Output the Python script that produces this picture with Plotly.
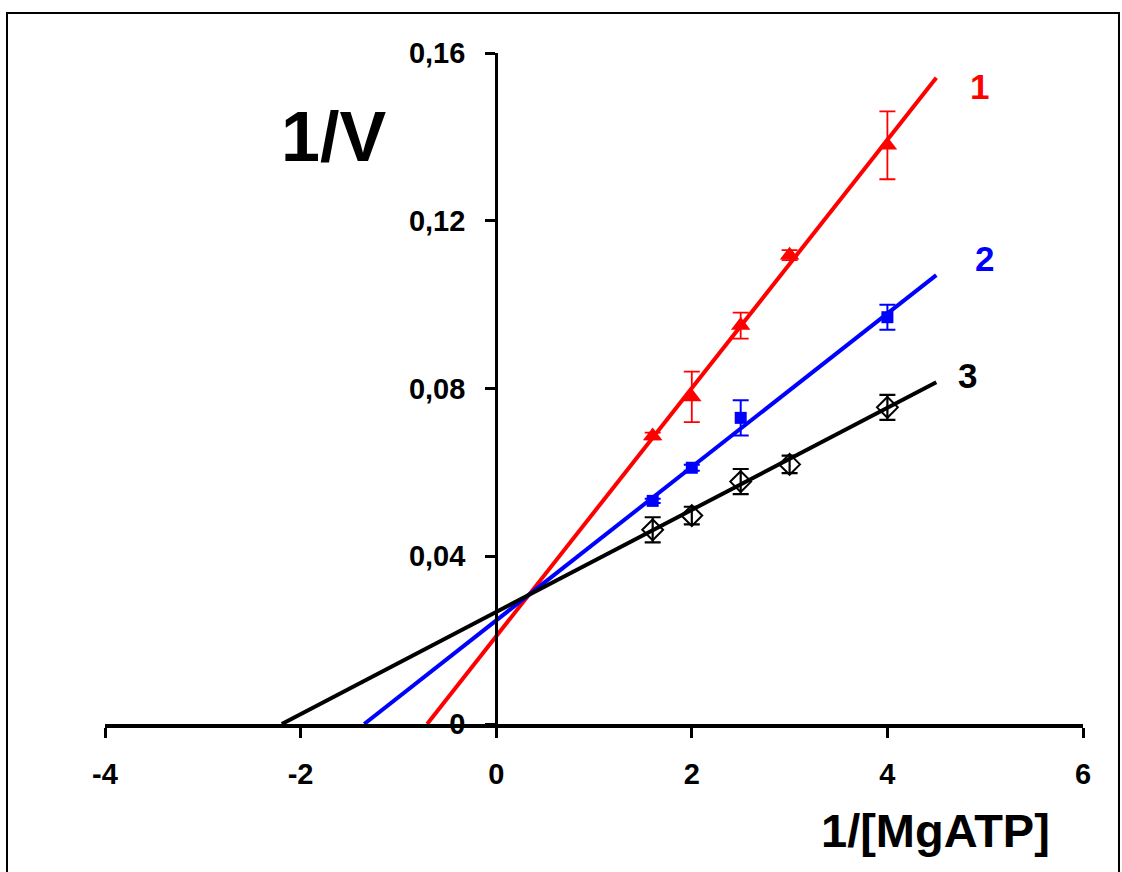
import plotly.graph_objects as go

# ---- data ----
red_x = [1.6, 2.0, 2.5, 3.0, 4.0]
red_y = [0.0687, 0.0780, 0.0950, 0.1118, 0.1380]
red_err = [0.0008, 0.0060, 0.0031, 0.0012, 0.0081]

blue_x = [1.6, 2.0, 2.5, 4.0]
blue_y = [0.0532, 0.0611, 0.0730, 0.0970]
blue_err = [0.0005, 0.0007, 0.0042, 0.0030]

black_x = [1.6, 2.0, 2.5, 3.0, 4.0]
black_y = [0.0463, 0.0497, 0.0578, 0.0619, 0.0755]
black_err = [0.0030, 0.0021, 0.0030, 0.0021, 0.0030]

# fitted Lineweaver-Burk lines: slope, intercept
fit_slopes = [0.0296, 0.0183, 0.01218]
fit_intercepts = [0.0209, 0.0247, 0.0267]
fit_xmax = 4.5

series_labels = ["1", "2", "3"]
colors = ["#ff0000", "#0000ff", "#000000"]

x_ticks = [-4, -2, 0, 2, 4, 6]
x_ticktext = ["-4", "-2", "0", "2", "4", "6"]
y_ticks = [0, 0.04, 0.08, 0.12, 0.16]
y_ticktext = ["0", "0,04", "0,08", "0,12", "0,16"]

FONT = "Liberation Sans, Arial, sans-serif"

fig = go.Figure()

# fit lines
for s, b, c in zip(fit_slopes, fit_intercepts, colors):
    x0 = -b / s
    fig.add_trace(go.Scatter(
        x=[x0, fit_xmax], y=[s * x0 + b, s * fit_xmax + b],
        mode="lines", line=dict(color=c, width=4),
        showlegend=False, hoverinfo="skip"))

# data points with error bars
fig.add_trace(go.Scatter(
    x=red_x, y=red_y, mode="markers",
    marker=dict(symbol="triangle-up", size=17, color=colors[0]),
    error_y=dict(type="data", array=red_err, color=colors[0], thickness=1.8, width=8),
    showlegend=False))
fig.add_trace(go.Scatter(
    x=blue_x, y=blue_y, mode="markers",
    marker=dict(symbol="square", size=12, color=colors[1]),
    error_y=dict(type="data", array=blue_err, color=colors[1], thickness=2, width=8),
    showlegend=False))
fig.add_trace(go.Scatter(
    x=black_x, y=black_y, mode="markers",
    marker=dict(symbol="diamond-open", size=16, color=colors[2], line=dict(width=2, color=colors[2])),
    error_y=dict(type="data", array=black_err, color=colors[2], thickness=2.2, width=8),
    showlegend=False))

# series labels
label_pos = [(4.94, 0.1521), (4.99, 0.1109), (4.82, 0.0830)]
for (lx, ly), t, c in zip(label_pos, series_labels, colors):
    fig.add_annotation(x=lx, y=ly, text=f"<b>{t}</b>", showarrow=False,
                       font=dict(family=FONT, size=35, color=c),
                       xanchor="center", yanchor="middle")

fig.add_annotation(x=-1.667, y=0.140, text="<b>1/V</b>", showarrow=False,
                   font=dict(family=FONT, size=70, color="black"),
                   xanchor="center", yanchor="middle")
fig.add_annotation(x=0.8487, y=-0.158, xref="paper", yref="paper",
                   text="<b>1/[MgATP]</b>", showarrow=False,
                   font=dict(family=FONT, size=47, color="black"),
                   xanchor="center", yanchor="middle")

# outer frame (bottom edge lies below the visible page)
fig.add_shape(type="rect", xref="paper", yref="paper",
              x0=-0.1002, x1=1.0368, y0=-0.235, y1=1.0596,
              line=dict(color="black", width=2), layer="above")

fig.update_layout(
    width=1122, height=872,
    margin=dict(l=105, r=39, t=53, b=148),
    paper_bgcolor="white", plot_bgcolor="white",
    font=dict(family=FONT, color="black"),
    xaxis=dict(range=[-4, 6], tickvals=x_ticks,
               ticktext=[f"<b>{t}</b>" for t in x_ticktext],
               showgrid=False, zeroline=False, showline=True, linecolor="black", linewidth=4,
               ticks="outside", ticklen=10, tickwidth=3, tickcolor="black",
               tickfont=dict(family=FONT, size=29, color="black"),
               ticklabelstandoff=11),
    yaxis=dict(range=[0, 0.16], tickvals=y_ticks,
               ticktext=[f"<b>{t}</b>" for t in y_ticktext],
               anchor="free", position=0.4,
               showgrid=False, zeroline=False, showline=True, linecolor="black", linewidth=3,
               ticks="outside", ticklen=10, tickwidth=3, tickcolor="black",
               tickfont=dict(family=FONT, size=29, color="black"),
               ticklabelstandoff=14),
)

fig.write_html("out.html", config={"displayModeBar": False},
               post_script="document.body.style.margin='0';")
